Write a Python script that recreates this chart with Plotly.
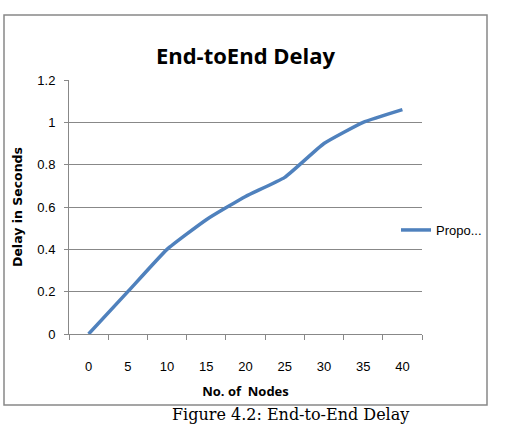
import plotly.graph_objects as go

nodes = ["0", "5", "10", "15", "20", "25", "30", "35", "40"]
delay = [0.0, 0.20, 0.40, 0.54, 0.65, 0.74, 0.90, 1.00, 1.06]
series_name = "Propo..."
y_ticks = [0, 0.2, 0.4, 0.6, 0.8, 1.0, 1.2]
y_tick_text = ["0", "0.2", "0.4", "0.6", "0.8", "1", "1.2"]

W, H = 508, 426
L, R, T, B = 69, 86, 80, 92
pw, ph = W - L - R, H - T - B

def px_x(x):
    return (x - L) / pw

def px_y(y):
    return (H - B - y) / ph

fig = go.Figure()
fig.add_trace(go.Scatter(
    x=nodes, y=delay, mode="lines", name=series_name,
    line=dict(color="#4F81BD", width=3.5, shape="spline", smoothing=0.4),
))

font_main = "Liberation Sans, Arial, sans-serif"
font_bold = "Open Sans, sans-serif"

fig.update_layout(
    width=W, height=H,
    margin=dict(l=L, r=R, t=T, b=B),
    paper_bgcolor="white", plot_bgcolor="white",
    title=dict(text="<b>End-toEnd Delay</b>", xref="paper", x=0.5, xanchor="center",
               yref="container", y=1 - 56 / H, yanchor="middle",
               font=dict(family=font_bold, size=22, color="black")),
    showlegend=True,
    legend=dict(x=px_x(396), y=px_y(230), xanchor="left", yanchor="middle",
                font=dict(family=font_main, size=13, color="black"),
                bgcolor="rgba(0,0,0,0)", itemwidth=30),
    xaxis=dict(type="category", range=[-0.5, len(nodes) - 0.5],
               tickson="boundaries", ticks="outside", ticklen=5,
               tickcolor="#888888", showline=True, linecolor="#888888", linewidth=1,
               showgrid=False, ticklabelstandoff=20,
               tickfont=dict(family=font_main, size=13, color="black"),
               title=dict(text="<b>No. of  Nodes</b>", standoff=14,
                          font=dict(family=font_bold, size=13, color="black"))),
    yaxis=dict(range=[0, 1.2], tickvals=y_ticks, ticktext=y_tick_text,
               ticks="outside", ticklen=4, tickcolor="#888888",
               showline=True, linecolor="#888888", linewidth=1,
               showgrid=True, gridcolor="#888888", gridwidth=1, zeroline=False,
               ticklabelstandoff=6,
               tickfont=dict(family=font_main, size=13, color="black"),
               title=dict(text="<b>Delay in Seconds</b>", standoff=11,
                          font=dict(family="DejaVu Sans, sans-serif", size=12.5, color="black"))),
    shapes=[dict(type="rect", xref="paper", yref="paper",
                 x0=px_x(4), x1=px_x(487), y0=px_y(405), y1=px_y(15),
                 line=dict(color="#888888", width=1.5), fillcolor="rgba(0,0,0,0)", layer="below")],
    annotations=[dict(text="Figure 4.2: End-to-End Delay", xref="paper", yref="paper",
                      x=px_x(290), y=px_y(415), xanchor="center", yanchor="middle",
                      showarrow=False,
                      font=dict(family="DejaVu Serif, serif", size=16, color="black"))],
)

fig.write_html("out.html")
